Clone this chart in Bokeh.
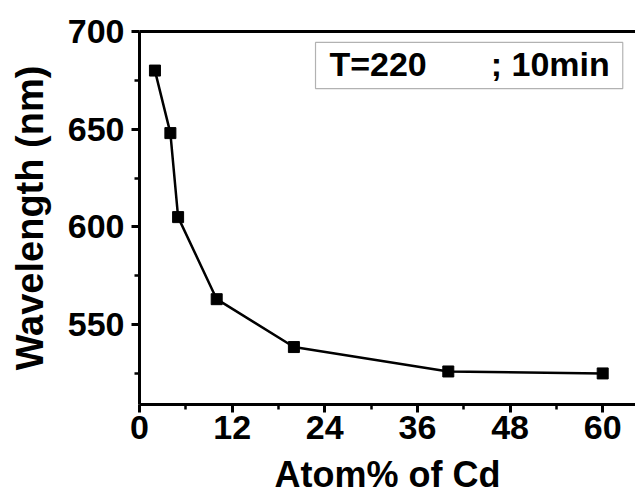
from bokeh.plotting import figure
from bokeh.models import (FixedTicker, LinearAxis, Label, BoxAnnotation, Range1d)
from bokeh.embed import file_html
from bokeh.resources import INLINE

# data
atom_cd = [2, 4, 5, 10, 20, 40, 60]
wavelength = [680, 648, 605, 563, 538.5, 526, 525]
x_ticks = [0, 12, 24, 36, 48, 60]
x_minor = [6, 18, 30, 42, 54]
y_ticks = [550, 600, 650, 700]
y_minor = [525, 575, 625, 675]
x_title = "Atom% of Cd"
y_title = "Wavelength (nm)"
note_left = "T=220"
note_right = "; 10min"

FONT = "Liberation Sans"

p = figure(width=635, height=497, output_backend="svg", toolbar_location=None,
           x_range=Range1d(0, 64.25), y_range=Range1d(509.1, 700),
           min_border_left=139, min_border_right=0, min_border_top=31,
           min_border_bottom=93, x_axis_location=None, y_axis_location=None)
p.outline_line_color = None
p.grid.visible = False
p.background_fill_color = "white"
p.border_fill_color = "white"

def style_axis(ax):
    ax.axis_line_width = 3
    ax.axis_line_color = "black"
    ax.major_tick_line_width = 3
    ax.minor_tick_line_width = 2.5
    ax.major_tick_in = 0
    ax.major_tick_out = 8
    ax.minor_tick_in = 0
    ax.minor_tick_out = 5
    ax.major_label_text_font = FONT
    ax.major_label_text_font_style = "bold"
    ax.major_label_text_font_size = "34px"
    ax.major_label_text_color = "black"
    ax.axis_label_text_font = FONT
    ax.axis_label_text_font_style = "bold"
    ax.axis_label_text_color = "black"

xb = LinearAxis(ticker=FixedTicker(ticks=x_ticks, minor_ticks=x_minor),
                axis_label=x_title)
style_axis(xb)
xb.major_label_standoff = 3
xb.axis_label_text_font_size = "36px"
xb.axis_label_standoff = 12
p.add_layout(xb, "below")

yl = LinearAxis(ticker=FixedTicker(ticks=y_ticks, minor_ticks=y_minor),
                axis_label=y_title)
style_axis(yl)
yl.major_label_standoff = 7
yl.axis_label_text_font_size = "38px"
yl.axis_label_standoff = 14
p.add_layout(yl, "left")

xt = LinearAxis(ticker=FixedTicker(ticks=[]))
xt.axis_line_width = 3
xt.major_label_text_font_size = "0px"
xt.major_tick_out = 0
xt.minor_tick_out = 0
p.add_layout(xt, "above")

p.line(atom_cd, wavelength, line_color="black", line_width=2.5)
p.scatter(atom_cd, wavelength, marker="square", size=11, fill_color="black",
          line_color="black")

# note box
p.add_layout(BoxAnnotation(left=22.8, right=62.6, bottom=670.8, top=694.4,
                           fill_color="white", fill_alpha=1.0,
                           line_color="black", line_width=1.2))
p.add_layout(Label(x=24.6, y=683.5, text=note_left, text_font=FONT,
                   text_font_style="bold", text_font_size="34px",
                   text_baseline="middle", text_color="black"))
p.add_layout(Label(x=45.5, y=683.5, text=note_right, text_font=FONT,
                   text_font_style="bold", text_font_size="34px",
                   text_baseline="middle", text_color="black"))

open("out.html", "w").write(file_html(p, INLINE))
